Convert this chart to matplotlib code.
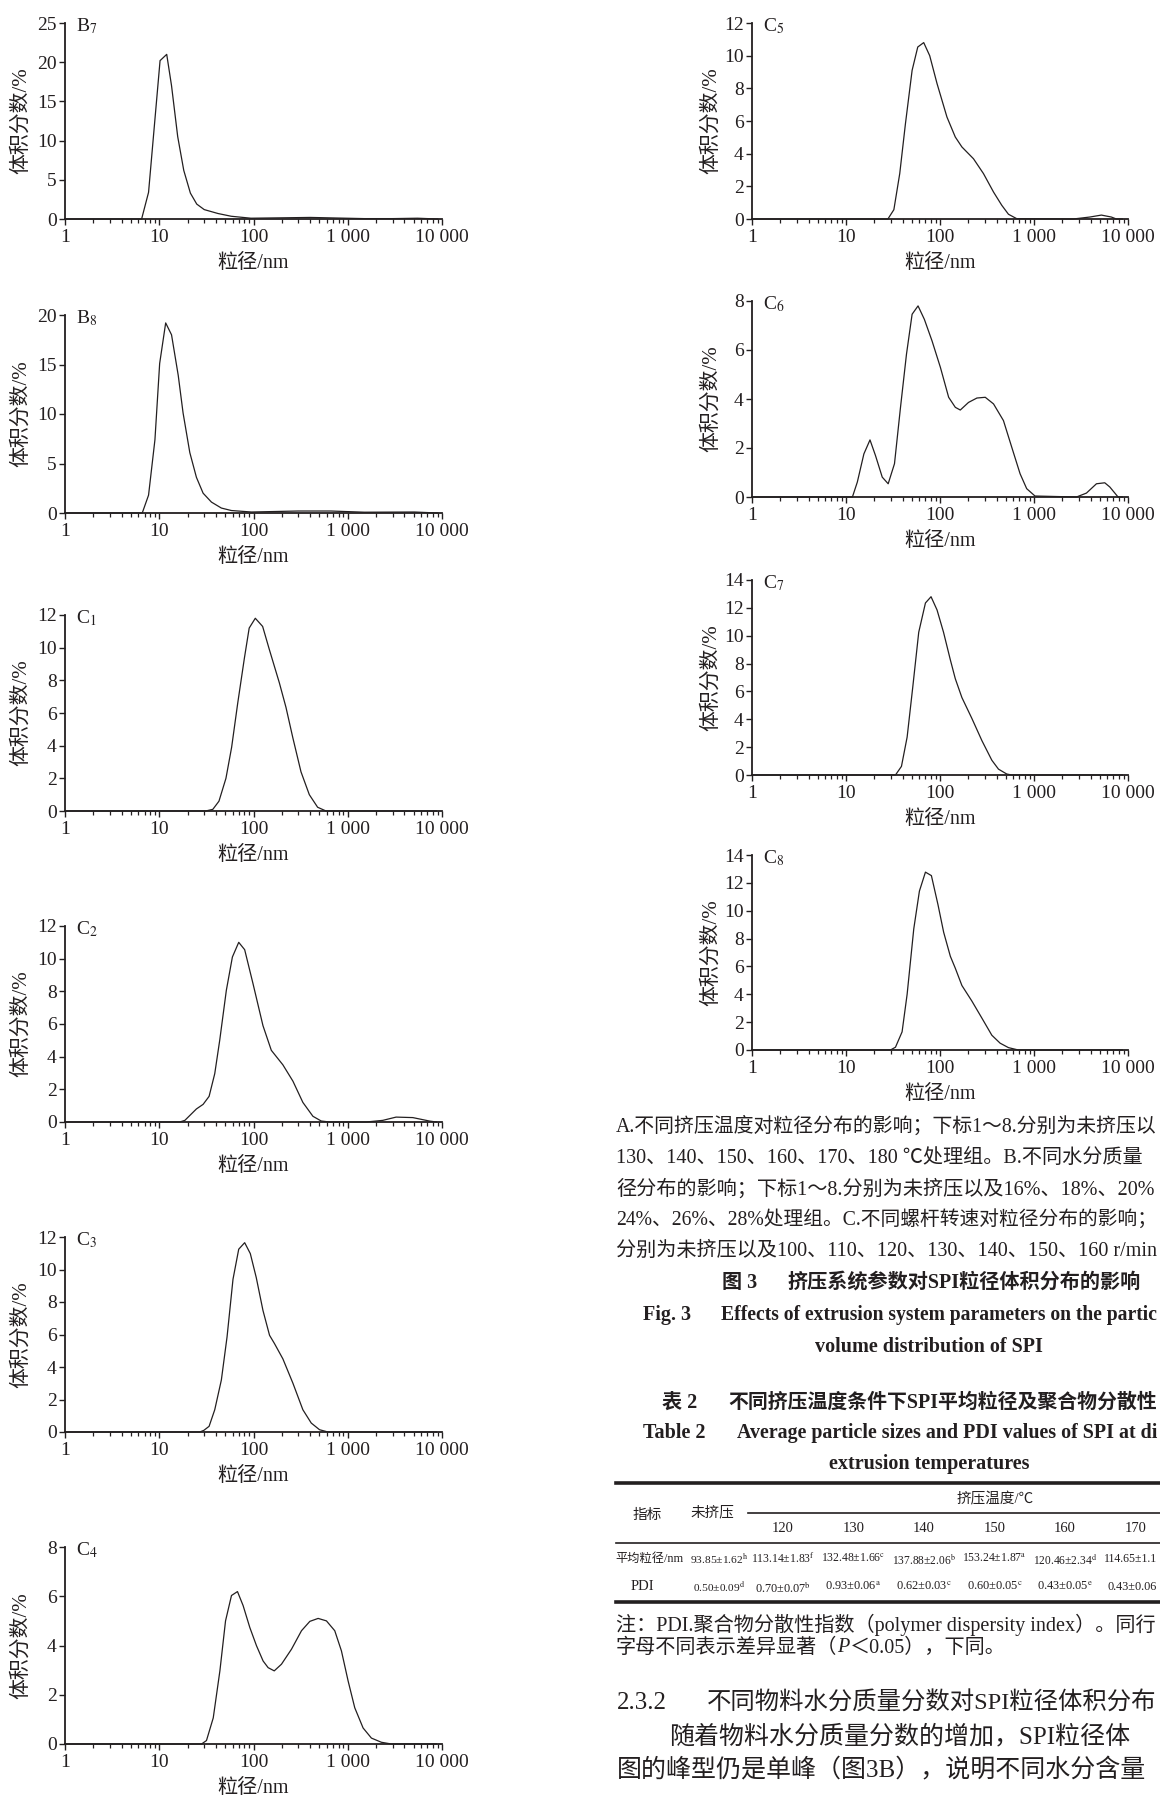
import numpy as np
import matplotlib.pyplot as plt
from matplotlib.ticker import LogLocator, NullFormatter

W, H = 1160, 1796
INK = '#231f20'
plt.rcParams['font.family'] = ['Liberation Serif', 'Noto Sans CJK SC']
plt.rcParams['mathtext.fontset'] = 'stix'
plt.rcParams['text.color'] = INK

# particle size (nm) and volume fraction (%)
b7_x = [1, 6.5, 7.7, 10.2, 12.0, 13.5, 15.7, 18.2, 21.4, 25, 30, 42, 58, 94, 200, 400, 800, 1500, 3000, 5500, 9000]
b7_y = [0, 0, 3.4, 20.2, 21.0, 17.0, 10.5, 6.2, 3.3, 1.9, 1.2, 0.7, 0.35, 0.1, 0.15, 0.2, 0.12, 0.05, 0.05, 0.1, 0]
b8_x = [1, 6.6, 7.7, 9.0, 10.1, 11.7, 13.5, 15.9, 17.9, 21.1, 24.8, 29.2, 35.8, 45.6, 58.2, 95, 297, 665, 1500, 5100, 9000]
b8_y = [0, 0, 1.8, 7.4, 15.1, 19.2, 18.0, 13.9, 10.1, 6.1, 3.6, 2.0, 1.1, 0.5, 0.25, 0.1, 0.2, 0.2, 0.08, 0.1, 0]
c1_x = [1, 31, 37, 43, 51, 58.6, 68, 80, 90, 104.5, 125, 147, 188, 221, 261, 319, 391, 479, 588, 8700]
c1_y = [0, 0, 0.1, 0.6, 2.0, 3.9, 6.6, 9.35, 11.2, 11.8, 11.3, 9.9, 7.85, 6.35, 4.5, 2.4, 1.0, 0.23, 0, 0]
c2_x = [1, 16.5, 18.7, 24.8, 29.2, 33.8, 38.8, 43.8, 51.5, 59.7, 69.7, 80.6, 98.8, 126, 154.5, 205, 262, 334, 427,
        523, 641, 1567, 2353, 3258, 4900, 7343, 8700]
c2_y = [0, 0, 0.1, 0.8, 1.08, 1.57, 2.96, 5.0, 8.06, 10.1, 11.0, 10.55, 8.47, 5.9, 4.39, 3.5, 2.5, 1.2, 0.35,
        0.06, 0, 0, 0.1, 0.3, 0.27, 0.06, 0]
c3_x = [1, 26.9, 29.7, 33.8, 38.8, 45.6, 52.4, 60.6, 69.7, 80.6, 92.5, 107, 126, 148, 167, 205, 262, 334, 410,
        502, 617, 8700]
c3_y = [0, 0, 0.1, 0.35, 1.37, 3.2, 5.85, 9.4, 11.25, 11.65, 10.98, 9.5, 7.48, 5.95, 5.44, 4.5, 3.0, 1.37, 0.55,
        0.14, 0, 0]
c4_x = [1, 28.1, 31.7, 37.4, 44, 50.5, 58.4, 67.6, 77.6, 91.4, 107.6, 126.5, 143, 166, 198, 253, 323, 396, 485,
        594, 728, 857, 1009, 1187, 1455, 1783, 2276, 2905, 8700]
c4_y = [0, 0, 0.14, 1.06, 2.97, 5.0, 6.03, 6.19, 5.62, 4.73, 3.99, 3.37, 3.1, 2.97, 3.24, 3.85, 4.6, 4.98, 5.1,
        5.0, 4.6, 3.78, 2.56, 1.47, 0.65, 0.24, 0.07, 0, 0]
c5_x = [1, 27.9, 32.3, 37.3, 42.9, 50.5, 58, 67.1, 77.7, 93, 118.6, 145.4, 171, 227, 290, 371, 454, 535, 655,
        2612, 3925, 5210, 6653, 7520, 8700]
c5_y = [0, 0, 0.57, 2.78, 5.84, 9.1, 10.53, 10.8, 10.0, 8.29, 6.24, 5.02, 4.41, 3.69, 2.78, 1.65, 0.84, 0.29, 0.02,
        0, 0.12, 0.24, 0.12, 0, 0]
c6_x = [1, 11.7, 13.2, 15.5, 18, 20.6, 24.3, 28.1, 32.8, 38, 44, 50.5, 58.4, 68.2, 82.3, 101, 123.6, 145.5, 164.4,
        201, 247, 303, 371, 473, 580, 711, 836, 1025, 2832, 3614, 4617, 5660, 6400, 7840, 8700]
c6_y = [0, 0, 0.61, 1.76, 2.33, 1.69, 0.81, 0.54, 1.36, 3.66, 5.83, 7.46, 7.8, 7.25, 6.37, 5.29, 4.07, 3.66, 3.55,
        3.86, 4.04, 4.07, 3.8, 3.12, 2.03, 0.95, 0.34, 0.04, 0, 0.16, 0.54, 0.58, 0.41, 0, 0]
c7_x = [1, 33.6, 38.9, 44.7, 51.3, 59.4, 70, 80.3, 93, 109, 128.8, 145.5, 171, 218, 279, 356, 419, 513, 580, 8700]
c7_y = [0, 0, 0.62, 2.72, 6.3, 10.25, 12.35, 12.8, 11.85, 10.25, 8.27, 6.91, 5.56, 4.07, 2.47, 1.06, 0.42, 0.07, 0, 0]
c8_x = [1, 29.7, 33.6, 39.5, 44.7, 52.6, 60.4, 70, 81, 95.2, 109.4, 128.8, 145.5, 171, 218, 279, 356, 436, 535,
        682, 8700]
c8_y = [0, 0, 0.2, 1.3, 4.0, 8.7, 11.41, 12.77, 12.52, 10.43, 8.45, 6.73, 5.87, 4.63, 3.52, 2.29, 1.06, 0.49, 0.17,
        0, 0]

x_ticks = [1, 10, 100, 1000, 10000]
x_tick_labels = ['1', '10', '100', '1 000', '10 000']

# table 2 (the page is cut at the right, so the 170 column is partly visible)
temps = ['120', '130', '140', '150', '160', '170']
size_row = ['93.85±1.62$^{\\mathrm{h}}$', '113.14±1.83$^{\\mathrm{f}}$', '132.48±1.66$^{\\mathrm{c}}$',
            '137.88±2.06$^{\\mathrm{b}}$', '153.24±1.87$^{\\mathrm{a}}$', '120.46±2.34$^{\\mathrm{d}}$',
            '114.65±1.1']
pdi_row = ['0.50±0.09$^{\\mathrm{d}}$', '0.70±0.07$^{\\mathrm{b}}$', '0.93±0.06$^{\\mathrm{a}}$',
           '0.62±0.03$^{\\mathrm{c}}$', '0.60±0.05$^{\\mathrm{c}}$', '0.43±0.05$^{\\mathrm{e}}$', '0.43±0.06']

caption = [
    'A.不同挤压温度对粒径分布的影响；下标1～8.分别为未挤压以',
    '130、140、150、160、170、180 ℃处理组。B.不同水分质量',
    '径分布的影响；下标1～8.分别为未挤压以及16%、18%、20%',
    '24%、26%、28%处理组。C.不同螺杆转速对粒径分布的影响；',
    '分别为未挤压以及100、110、120、130、140、150、160 r/min',
]

# name, subscript, x, y, ymax, ystep, column, top px, bottom px
panels = [
    ('B', '7', b7_x, b7_y, 25, 5, 0, 23, 219),
    ('B', '8', b8_x, b8_y, 20, 5, 0, 315, 513),
    ('C', '1', c1_x, c1_y, 12, 2, 0, 615, 811),
    ('C', '2', c2_x, c2_y, 12, 2, 0, 926, 1122),
    ('C', '3', c3_x, c3_y, 12, 2, 0, 1237, 1432),
    ('C', '4', c4_x, c4_y, 8, 2, 0, 1547, 1744),
    ('C', '5', c5_x, c5_y, 12, 2, 1, 23, 219),
    ('C', '6', c6_x, c6_y, 8, 2, 1, 301, 497),
    ('C', '7', c7_x, c7_y, 14, 2, 1, 580, 775),
    ('C', '8', c8_x, c8_y, 14, 2, 1, 855, 1050),
]
cols = [(65, 442, 21), (752, 1128, 711)]

fig = plt.figure(figsize=(W / 100, H / 100), dpi=100)

page = fig.add_axes([0, 0, 1, 1], zorder=-1)
page.set_xlim(0, W)
page.set_ylim(H, 0)
page.axis('off')

for name, sub, xs, ys, ymax, ystep, c, top, bottom in panels:
    x0, x1, ylab_x = cols[c]
    ax = fig.add_axes([x0 / W, 1 - bottom / H, (x1 - x0) / W, (bottom - top) / H])
    ax.plot(xs, ys, color=INK, lw=0.9, clip_on=False)
    ax.set_xscale('log')
    ax.set_xlim(1, 10000)
    ax.set_ylim(0, ymax)
    ax.set_xticks(x_ticks, x_tick_labels)
    ax.xaxis.set_minor_locator(LogLocator(base=10, subs=range(2, 10), numticks=20))
    ax.xaxis.set_minor_formatter(NullFormatter())
    ax.set_yticks(np.arange(0, ymax + 0.1, ystep))
    ax.spines[['top', 'right']].set_visible(False)
    for s in ('left', 'bottom'):
        ax.spines[s].set_linewidth(1.3)
        ax.spines[s].set_color(INK)
    ax.tick_params(which='major', direction='out', length=4.5, width=1.0, color=INK,
                   labelsize=14, labelcolor=INK)
    ax.tick_params(axis='x', which='major', pad=2.5)
    ax.tick_params(axis='y', which='major', pad=1.5)
    ax.tick_params(axis='x', which='minor', direction='out', length=3.2, width=0.9, color=INK)
    ax.patch.set_visible(False)
    ax.text(11 / (x1 - x0), 1 - 3 / (bottom - top), name + '$_{' + sub + '}$', transform=ax.transAxes,
            fontsize=14, ha='left', va='center')
    ax.text(0.5, -44 / (bottom - top), '粒径/nm', transform=ax.transAxes, fontsize=14.5,
            ha='center', va='center', fontweight='light')
    page.text(ylab_x, (top + bottom) / 2, '体积分数/%', rotation=90, fontsize=15,
              ha='center', va='center', fontweight='light')

rend = fig.canvas.get_renderer()
LIMIT = W - 3


def put(x, y, s, size, ha='left', maxw=None, **kw):
    # place a text; shrink it if it would run past the page edge or its cell
    t = page.text(x, y, s, fontsize=size, ha=ha, va='center', **kw)
    bb = t.get_window_extent(rend)
    scale = 1.0
    if maxw is not None and bb.width > maxw:
        scale = maxw / bb.width
    if ha == 'center':
        left = x - bb.width * scale / 2
    else:
        left = bb.x0
    if left + bb.width * scale > LIMIT:
        t.set_ha('left')
        t.set_x(left)
        scale = min(scale, (LIMIT - left) / bb.width)
    t.set_fontsize(size * scale)
    return t


def runs(x, y, parts, size, **kw):
    for s, style in parts:
        t = put(x, y, s, size, fontstyle=style, **kw)
        x += t.get_window_extent(rend).width


for i, line in enumerate(caption):
    put(616, 1127 + 31 * i, line, 14.5, fontweight='light')

put(722, 1283, '图 3', 14.5, fontweight='bold')
put(787, 1283, '挤压系统参数对SPI粒径体积分布的影响', 14.5, fontweight='bold')
put(643, 1315, 'Fig. 3', 14.5, fontweight='bold')
put(721, 1315, 'Effects of extrusion system parameters on the partic', 14.5, fontweight='bold')
put(929, 1347, 'volume distribution of SPI', 14.5, ha='center', fontweight='bold')

put(662, 1403, '表 2', 14.5, fontweight='bold')
put(728, 1403, '不同挤压温度条件下SPI平均粒径及聚合物分散性', 14.5, fontweight='bold')
put(643, 1433, 'Table 2', 14.5, fontweight='bold')
put(737, 1433, 'Average particle sizes and PDI values of SPI at di', 14.5, fontweight='bold')
put(929, 1464, 'extrusion temperatures', 14.5, ha='center', fontweight='bold')

# table rules
page.plot([616, W], [1483, 1483], color=INK, lw=2.6)
page.plot([748, W], [1513, 1513], color=INK, lw=1.2)
page.plot([616, W], [1543, 1543], color=INK, lw=1.2)
page.plot([616, W], [1602, 1602], color=INK, lw=2.6)

col_w = 70.5
centers = [719] + [783 + col_w * i for i in range(len(temps))]
widths = [58] + [64] * len(temps)
pdi_widths = [52] + [56] * len(temps)
put(647, 1515, '指标', 10.5, ha='center')
put(712, 1513, '未挤压', 10.5, ha='center')
put(995, 1499, '挤压温度/℃', 10.5, ha='center')
for cx, t in zip(centers[1:], temps):
    put(cx, 1529, t, 10.5, ha='center')
put(615, 1559, '平均粒径/nm', 10.5, maxw=68)
put(642, 1587, 'PDI', 10.5, ha='center')
for cx, w, pw, a, b in zip(centers, widths, pdi_widths, size_row, pdi_row):
    put(cx, 1559, a, 10.5, ha='center', maxw=w)
    put(cx, 1587, b, 10.5, ha='center', maxw=pw)

runs(616, 1625, [('注：PDI.聚合物分散性指数（polymer dispersity index）。同行', 'normal')], 14.5,
     fontweight='light')
runs(616, 1648, [('字母不同表示差异显著（', 'normal'), ('P', 'italic'), ('＜0.05），下同。', 'normal')], 14.5,
     fontweight='light')

put(617, 1703, '2.3.2', 18, fontweight='light')
put(707, 1703, '不同物料水分质量分数对SPI粒径体积分布', 18, fontweight='light')
put(669, 1737, '随着物料水分质量分数的增加，SPI粒径体', 18, fontweight='light')
put(617, 1770, '图的峰型仍是单峰（图3B），说明不同水分含量', 18, fontweight='light')

fig.savefig('out.png', dpi=100)
